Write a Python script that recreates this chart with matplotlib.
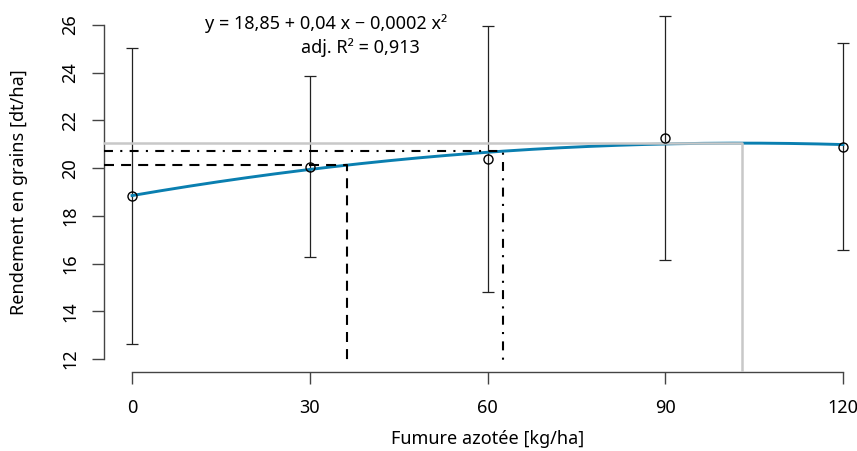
import numpy as np
import matplotlib.pyplot as plt

plt.rcParams['font.family'] = ['Noto Sans', 'DejaVu Sans']

# data
dose = [0, 30, 60, 90, 120]
yield_mean = [18.83, 20.06, 20.38, 21.26, 20.90]
yield_low = [12.63, 16.28, 14.82, 16.15, 16.58]
yield_high = [25.05, 23.85, 25.96, 26.36, 25.25]

# quadratic fit (unrounded coefficients behind the printed equation)
coef_a = 18.85
coef_b = 0.0427
coef_c = -0.0002074

# reference levels: (dose, yield)
ref_dashed = (36.2, 20.12)
ref_dotdash = (62.7, 20.70)
ref_max = (103.0, 21.05)

xticks = [0, 30, 60, 90, 120]
yticks = [12, 14, 16, 18, 20, 22, 24, 26]

fig = plt.figure(figsize=(8.57, 4.51), dpi=100)
ax = fig.add_axes([0.1209, 0.1743, 0.8959, 0.80])
ax.set_xlim(-4.8, 124.8)
ax.set_ylim(11.44, 26.56)

# fitted curve
xx = np.linspace(dose[0], dose[-1], 200)
ax.plot(xx, coef_a + coef_b * xx + coef_c * xx**2, color='#0a7fb0', lw=2.1, zorder=3)

# reference lines
xmin, ymin = -4.8, 11.44
ax.plot([xmin, ref_max[0], ref_max[0]], [ref_max[1], ref_max[1], ymin],
        color='#c8c8c8', lw=1.8, zorder=4)
ax.plot([xmin, ref_dashed[0], ref_dashed[0]], [ref_dashed[1], ref_dashed[1], ymin + 0.3],
        color='black', lw=1.5, dashes=(4.8, 3.4), zorder=4)
ax.plot([xmin, ref_dotdash[0], ref_dotdash[0]], [ref_dotdash[1], ref_dotdash[1], ymin + 0.25],
        color='black', lw=1.5, dashes=(4.3, 3.5, 1, 3.5), zorder=4)

# error bars and points
err = [np.array(yield_mean) - np.array(yield_low), np.array(yield_high) - np.array(yield_mean)]
ax.errorbar(dose, yield_mean, yerr=err, fmt='none', ecolor='#222222', elinewidth=0.9,
            capsize=4.5, capthick=0.9, zorder=2)
ax.plot(dose, yield_mean, 'o', mfc='none', mec='black', ms=6.5, mew=1.0, zorder=5)

ax.text(32.8, 26.05, 'y = 18,85 + 0,04 x \u2212 0,0002 x\u00b2', ha='center', va='center', fontsize=13)
ax.text(38.5, 25.05, 'adj. R\u00b2 = 0,913', ha='center', va='center', fontsize=13)

# R-like axes
for s in ['top', 'right']:
    ax.spines[s].set_visible(False)
ax.spines['left'].set_bounds(12, 26)
ax.spines['bottom'].set_bounds(0, 120)
for s in ['left', 'bottom']:
    ax.spines[s].set_color('#444444')
    ax.spines[s].set_linewidth(1.0)
ax.set_xticks(xticks)
ax.set_yticks(yticks)
ax.tick_params(axis='both', length=8.5, width=1.0, color='#444444', labelsize=13)
ax.tick_params(axis='x', pad=11)
ax.tick_params(axis='y', pad=9)
for lab in ax.get_yticklabels():
    lab.set_rotation(90)
    lab.set_va('center')

ax.set_xlabel('Fumure azotée [kg/ha]', fontsize=13, labelpad=9)
ax.set_ylabel('Rendement en grains [dt/ha]', fontsize=13, labelpad=24)

fig.savefig('out.png', dpi=100)
